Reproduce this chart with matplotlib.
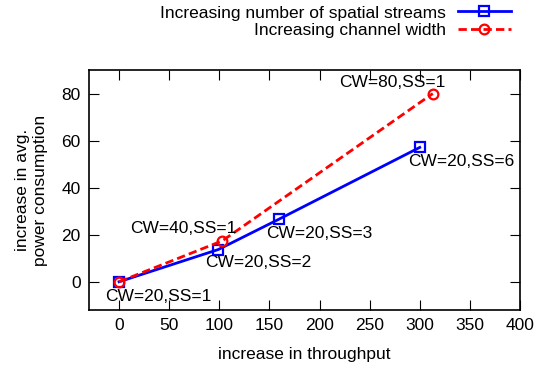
import matplotlib.pyplot as plt

plt.rcParams['font.family'] = ['Liberation Sans', 'DejaVu Sans']

# throughput gain vs. power increase for the two scaling strategies
ss_x = [0, 99, 160, 300]
ss_y = [0, 13.7, 26.7, 57.1]
cw_x = [0, 103, 313]
cw_y = [0, 17.4, 80]

labels = ['CW=20,SS=1', 'CW=20,SS=2', 'CW=40,SS=1', 'CW=20,SS=3', 'CW=20,SS=6', 'CW=80,SS=1']
label_x = [39, 139, 64, 200, 341, 273]
label_y = [-6.4, 8.1, 22.7, 20.7, 51, 84.6]

xticks = list(range(0, 401, 50))
yticks = list(range(0, 81, 20))

fig = plt.figure(figsize=(5.38, 3.66), dpi=100)
ax = fig.add_axes([0.1654, 0.153, 0.8011, 0.6557])

ax.plot(ss_x, ss_y, color='#0000ff', lw=2, marker='s', ms=7, mfc='none', mew=1.6,
        label='Increasing number of spatial streams')
ax.plot(cw_x, cw_y, color='#ff0000', lw=2, ls=(0, (3, 1.5)), marker='o', ms=7, mfc='none',
        mew=1.6, label='Increasing channel width')

for t, x, y in zip(labels, label_x, label_y):
    ax.text(x, y, t, ha='center', va='center', fontsize=12.5)

ax.set_xlim(-30, 400)
ax.set_ylim(-12, 90)
ax.set_xticks(xticks)
ax.set_yticks(yticks)
ax.tick_params(direction='in', length=7, top=True, right=True, labelsize=12.5, pad=6)
for s in ax.spines.values():
    s.set_linewidth(1.2)

ax.set_xlabel('increase in throughput', fontsize=12.5, labelpad=10)
ax.set_ylabel('increase in avg.\npower consumption', fontsize=12.5, labelpad=10, linespacing=1.2)

fig.legend(loc='upper right', bbox_to_anchor=(0.978, 1.028), frameon=False, markerfirst=False,
           fontsize=12.5, handlelength=3.0, labelspacing=0.15, handletextpad=0.7)

fig.savefig('out.png', dpi=100)
